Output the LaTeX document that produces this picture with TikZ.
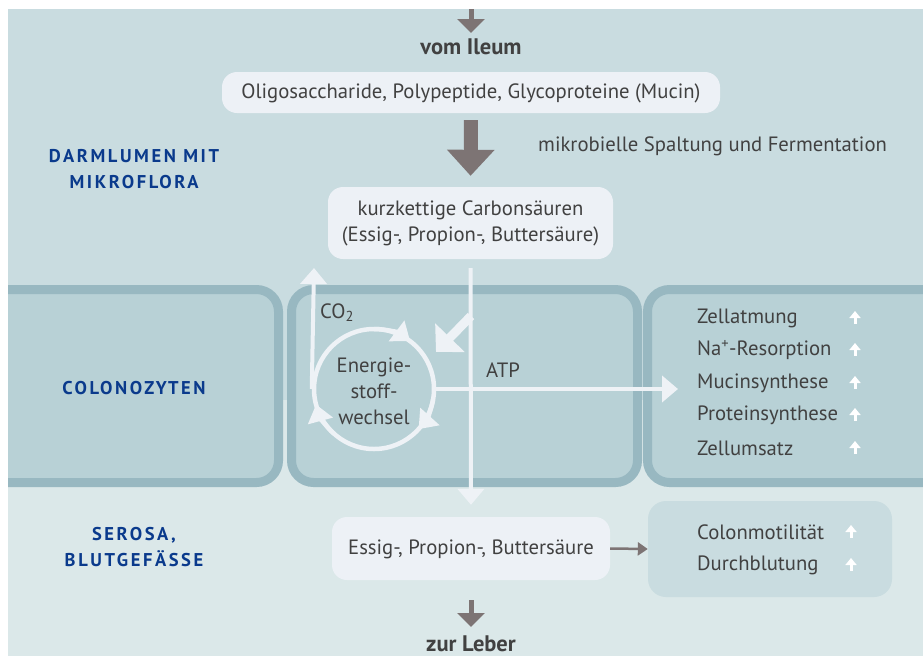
\documentclass[tikz,border=0pt]{standalone}
\usepackage{fontspec}
\setmainfont{PT Sans}
\usetikzlibrary{arrows.meta}
\definecolor{bgtop}{HTML}{C9DCE0}
\definecolor{bgbot}{HTML}{DBE8E9}
\definecolor{cellfill}{HTML}{B8D1D6}
\definecolor{cellborder}{HTML}{98B8C1}
\definecolor{boxfill}{HTML}{EDF1F6}
\definecolor{txtc}{HTML}{414141}
\definecolor{garr}{HTML}{7D7474}
\definecolor{navy}{HTML}{0A3A8C}
\definecolor{wl}{HTML}{EEF2F6}
\begin{document}
\begin{tikzpicture}[x=1pt,y=-1pt,
  txt/.style={font=\fontsize{20.7}{26}\selectfont, text=txtc, inner sep=0pt},
  boldtxt/.style={font=\fontsize{22.5}{26}\selectfont\bfseries, text=txtc, inner sep=0pt},
  headtxt/.style={font=\fontsize{18.5}{26}\selectfont\bfseries\addfontfeature{LetterSpace=14}, text=navy, inner sep=0pt, align=center},
  box/.style={fill=boxfill, rounded corners=15, inner sep=0pt},
  cell/.style={fill=cellfill, draw=cellborder, line width=9, rounded corners=22},
  grayarr/.style={draw=garr, line width=5, -{Triangle[length=14,width=27]}},
  bigarr/.style={draw=garr, line width=14, -{Triangle[length=26,width=46]}},
  smallgray/.style={draw=garr, line width=2.5, -{Triangle[length=10,width=13]}},
  warr/.style={draw=wl, line width=4, -{Triangle[length=16,width=26]}},
  diagarr/.style={draw=wl, line width=9, -{Triangle[length=20,width=40]}},
  circarr/.style={draw=wl, line width=4.5, -{Triangle[length=17,width=25]}},
  upar/.style={draw=white, line width=3, -{Triangle[length=7,width=11]}}
]
\useasboundingbox (0,0) rectangle (923,656);
\fill[white] (0,0) rectangle (923,656);
\fill[bgtop] (8,9) rectangle (923,400);
\fill[bgbot] (8,400) rectangle (923,656);
\begin{scope}
\clip (8,9) rectangle (923,656);
\draw[cell] (-30,289.5) rectangle (278.5,482.5);
\draw[cell] (291.5,289.5) rectangle (637.5,482.5);
\draw[cell] (647.5,289.5) rectangle (960,482.5);
\end{scope}

% labels left
\node[headtxt] (darm) at (134,169) {DARMLUMEN MIT\\MIKROFLORA};
\node[headtxt] (colono) at (134,388) {COLONOZYTEN};
\node[headtxt] (serosa) at (134,547) {SEROSA,\\BLUTGEFÄSSE};

% top
\coordinate (topin) at (471,9);
\coordinate (topend) at (471,33);
\node[boldtxt] (ileum) at (471,47) {vom Ileum};
\draw[grayarr] (topin) -- (topend);

\node[box, minimum width=498, minimum height=41] (b1) at (471,92.5) {};
\node[txt] (b1t) at (471,93) {Oligosaccharide, Polypeptide, Glycoproteine (Mucin)};

\node[box, minimum width=285, minimum height=72] (b2) at (470.5,223) {};
\node[txt, align=center] (b2t) at (470.5,223) {kurzkettige Carbonsäuren\\(Essig-, Propion-, Buttersäure)};

\draw[bigarr, shorten <=7, shorten >=11] (b1.south) -- (b2.north);
\node[txt, anchor=west] (mikro) at (538,146) {mikrobielle Spaltung und Fermentation};

% bottom boxes
\node[box, minimum width=278, minimum height=63] (b3) at (471,548.5) {};
\node[txt] (b3t) at (471,549) {Essig-, Propion-, Buttersäure};
\node[fill=bgtop, rounded corners=18, minimum width=244, minimum height=96, inner sep=0pt] (b4) at (770,549) {};
\draw[smallgray] (b3.east) -- (b4.west);

% vertical white line
\draw[warr, shorten <=9, shorten >=12] (b2.south) -- (b3.north);

% cycle
\node[circle, draw=wl, line width=4.5, minimum size=120, inner sep=0pt] (cyc) at (374,389) {};
\node[txt, align=center] (energ) at (374,391) {Energie-\\stoff-\\wechsel};
\draw[circarr] (cyc.center) ++(-90:60) arc (-90:-53:60);
\draw[circarr] (cyc.center) ++(10:60) arc (10:42:60);
\draw[circarr] (cyc.center) ++(132:60) arc (132:165:60);

% CO2
\coordinate (co2tip) at (314,268);
\draw[warr] (cyc.west) -- (co2tip);
\node[txt] (co2) at (337,313) {CO\textsubscript{2}};

% ATP
\coordinate (atptip) at (678,389);
\draw[warr] (cyc.east) -- (atptip);
\node[txt] (atp) at (503,370) {ATP};

% diagonal
\coordinate (diagS) at (471,316);
\coordinate (diagE) at (436,352);
\draw[diagarr] (diagS) -- (diagE);

% list in cell 3
\foreach \t/\yy [count=\i] in {Zellatmung/318, Na\textsuperscript{+}-Resorption/350, Mucinsynthese/383, Proteinsynthese/415, Zellumsatz/448}{
  \node[txt, anchor=west] (l\i) at (697,\yy) {\t};
  \draw[upar] (855,\yy+6) -- (855,\yy-7);
}

% box 4 list
\node[txt, anchor=west] (c1) at (697,532) {Colonmotilität};
\node[txt, anchor=west] (c2) at (697,565) {Durchblutung};
\draw[upar] (851,538) -- (851,525);
\draw[upar] (851,571) -- (851,558);

% bottom arrow
\coordinate (botS) at (471,600);
\coordinate (botE) at (471,627);
\draw[grayarr] (botS) -- (botE);
\node[boldtxt] (leber) at (471,643.5) {zur Leber};
\end{tikzpicture}
\end{document}
